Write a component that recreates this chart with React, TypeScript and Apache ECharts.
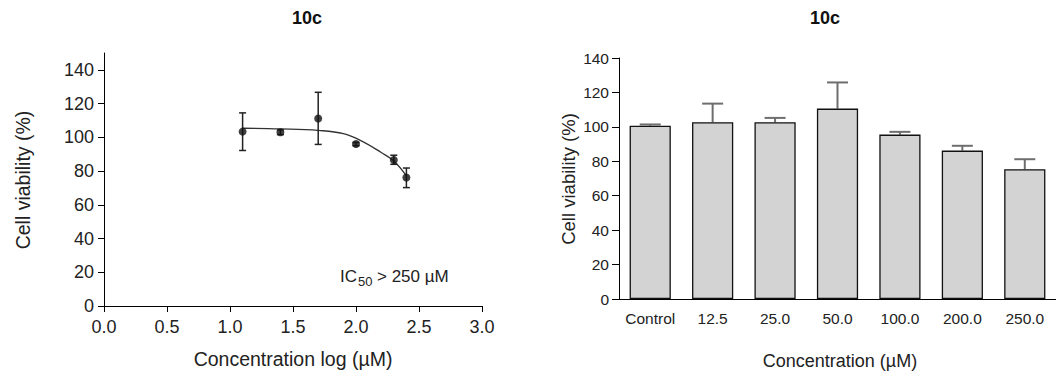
import React, { useEffect, useRef } from "react";
import * as echarts from "echarts";

// ---- Left panel: dose-response (log concentration) ----
const logConc = [1.1, 1.4, 1.7, 2.0, 2.3, 2.4];
const meanViability = [103.4, 103.0, 111.2, 96.0, 86.6, 76.2];
const errLower = [92.2, 101.6, 95.8, 95.0, 84.0, 70.2];
const errUpper = [114.5, 104.4, 126.7, 97.0, 89.4, 81.8];
// fitted curve
const fitX = [1.1, 1.4, 1.7, 1.9, 2.05, 2.2, 2.3, 2.4];
const fitY = [105.4, 105.0, 104.1, 102.2, 97.6, 91.0, 86.0, 77.2];
const leftYTicks = [0, 20, 40, 60, 80, 100, 120, 140];

// ---- Right panel: bars ----
const concCategories = ["Control", "12.5", "25.0", "50.0", "100.0", "200.0", "250.0"];
const barViability = [100.7, 102.7, 102.7, 110.6, 95.5, 86.2, 75.4];
const barErrTop = [101.4, 113.5, 105.2, 125.8, 97.1, 89.0, 81.2];

const FONT = "'Liberation Sans', Arial, sans-serif";
const TXT = "#222";

export default function App() {
  const ref = useRef<HTMLDivElement>(null);
  useEffect(() => {
    if (!ref.current) return;
    const chart = echarts.init(ref.current, null, { renderer: "svg" });

    const leftErr = logConc.map((x, i) => [x, errLower[i], errUpper[i]]);
    const rightErr = concCategories.map((_, i) => [i, barViability[i], barErrTop[i]]);

    const option: any = {
      animation: false,
      textStyle: { fontFamily: FONT },
      grid: [
        { left: 104, top: 53, width: 378, height: 253 },
        { left: 619, top: 58, width: 440, height: 241 },
      ],
      xAxis: [
        {
          type: "value",
          gridIndex: 0,
          min: 0,
          max: 3,
          interval: 0.5,
          axisLine: { lineStyle: { color: "#000", width: 1 } },
          axisTick: { length: 6, lineStyle: { color: "#000" } },
          axisLabel: {
            color: TXT,
            fontSize: 18,
            fontFamily: FONT,
            margin: 12,
            formatter: (v: number) => v.toFixed(1),
          },
          splitLine: { show: false },
        },
        {
          type: "category",
          gridIndex: 1,
          data: concCategories,
          axisLine: { lineStyle: { color: "#000", width: 1 } },
          axisTick: { alignWithLabel: true, length: 6, lineStyle: { color: "#000" } },
          axisLabel: { color: TXT, fontSize: 15.5, fontFamily: FONT, margin: 11, interval: 0 },
        },
      ],
      yAxis: [
        {
          type: "value",
          gridIndex: 0,
          min: 0,
          max: 150,
          interval: 10,
          axisLine: { show: true, lineStyle: { color: "#000", width: 1 } },
          axisTick: { show: true, length: 6, customValues: leftYTicks, lineStyle: { color: "#000" } },
          axisLabel: { color: TXT, fontSize: 18, fontFamily: FONT, margin: 10, customValues: leftYTicks },
          splitLine: { show: false },
        },
        {
          type: "value",
          gridIndex: 1,
          min: 0,
          max: 140,
          interval: 20,
          axisLine: { show: true, lineStyle: { color: "#000", width: 1 } },
          axisTick: { show: true, length: 7, lineStyle: { color: "#000" } },
          axisLabel: { color: TXT, fontSize: 15.5, fontFamily: FONT, margin: 10 },
          splitLine: { show: false },
        },
      ],
      series: [
        {
          type: "line",
          xAxisIndex: 0,
          yAxisIndex: 0,
          data: fitX.map((x, i) => [x, fitY[i]]),
          smooth: 0.4,
          showSymbol: false,
          symbol: "none",
          lineStyle: { color: "#333", width: 1.3 },
          z: 2,
        },
        {
          type: "custom",
          xAxisIndex: 0,
          yAxisIndex: 0,
          data: leftErr,
          z: 3,
          renderItem: (params: any, api: any) => {
            const x = api.value(0);
            const lo = api.coord([x, api.value(1)]);
            const hi = api.coord([x, api.value(2)]);
            const w = 7;
            const st = { stroke: "#222", lineWidth: 1.5 };
            return {
              type: "group",
              children: [
                { type: "line", shape: { x1: hi[0], y1: hi[1], x2: lo[0], y2: lo[1] }, style: st },
                { type: "line", shape: { x1: hi[0] - w / 2, y1: hi[1], x2: hi[0] + w / 2, y2: hi[1] }, style: st },
                { type: "line", shape: { x1: lo[0] - w / 2, y1: lo[1], x2: lo[0] + w / 2, y2: lo[1] }, style: st },
              ],
            };
          },
        },
        {
          type: "scatter",
          xAxisIndex: 0,
          yAxisIndex: 0,
          data: logConc.map((x, i) => [x, meanViability[i]]),
          symbol: "circle",
          symbolSize: 8,
          itemStyle: { color: "#111" },
          z: 4,
        },
        {
          type: "bar",
          xAxisIndex: 1,
          yAxisIndex: 1,
          data: barViability,
          barWidth: "66%",
          itemStyle: { color: "#d3d3d3", borderColor: "#111", borderWidth: 1.3 },
          z: 3,
        },
        {
          type: "custom",
          xAxisIndex: 1,
          yAxisIndex: 1,
          data: rightErr,
          z: 2,
          renderItem: (params: any, api: any) => {
            const i = api.value(0);
            const base = api.coord([i, api.value(1)]);
            const top = api.coord([i, api.value(2)]);
            const w = 21;
            const st = { stroke: "#6e6e6e", lineWidth: 2 };
            return {
              type: "group",
              children: [
                { type: "line", shape: { x1: top[0], y1: top[1], x2: base[0], y2: base[1] }, style: st },
                { type: "line", shape: { x1: top[0] - w / 2, y1: top[1], x2: top[0] + w / 2, y2: top[1] }, style: st },
              ],
            };
          },
        },
      ],
      graphic: [
        { type: "text", x: 307, y: 18, style: { text: "10c", fontSize: 18, fontWeight: "bold", fontFamily: FONT, fill: "#111", align: "center", verticalAlign: "middle" } },
        { type: "text", x: 825, y: 18, style: { text: "10c", fontSize: 18, fontWeight: "bold", fontFamily: FONT, fill: "#111", align: "center", verticalAlign: "middle" } },
        { type: "text", x: 23, y: 180, rotation: Math.PI / 2, style: { text: "Cell viability (%)", fontSize: 19.5, fontFamily: FONT, fill: TXT, align: "center", verticalAlign: "middle" } },
        { type: "text", x: 293, y: 359, style: { text: "Concentration log (µM)", fontSize: 19.5, fontFamily: FONT, fill: TXT, align: "center", verticalAlign: "middle" } },
        { type: "text", x: 568, y: 179, rotation: Math.PI / 2, style: { text: "Cell viability (%)", fontSize: 18.5, fontFamily: FONT, fill: TXT, align: "center", verticalAlign: "middle" } },
        { type: "text", x: 840, y: 361, style: { text: "Concentration (µM)", fontSize: 18, fontFamily: FONT, fill: TXT, align: "center", verticalAlign: "middle" } },
        { type: "text", x: 340, y: 276, style: { text: "IC", fontSize: 17, fontFamily: FONT, fill: TXT, align: "left", verticalAlign: "middle" } },
        { type: "text", x: 358, y: 281, style: { text: "50", fontSize: 13, fontFamily: FONT, fill: TXT, align: "left", verticalAlign: "middle" } },
        { type: "text", x: 377, y: 276, style: { text: "> 250 µM", fontSize: 17, fontFamily: FONT, fill: TXT, align: "left", verticalAlign: "middle" } },
      ],
    };
    chart.setOption(option);
    return () => chart.dispose();
  }, []);

  return (
    <div
      ref={ref}
      style={{ position: "fixed", left: 0, top: 0, width: 1056, height: 376, background: "#fff" }}
    />
  );
}
